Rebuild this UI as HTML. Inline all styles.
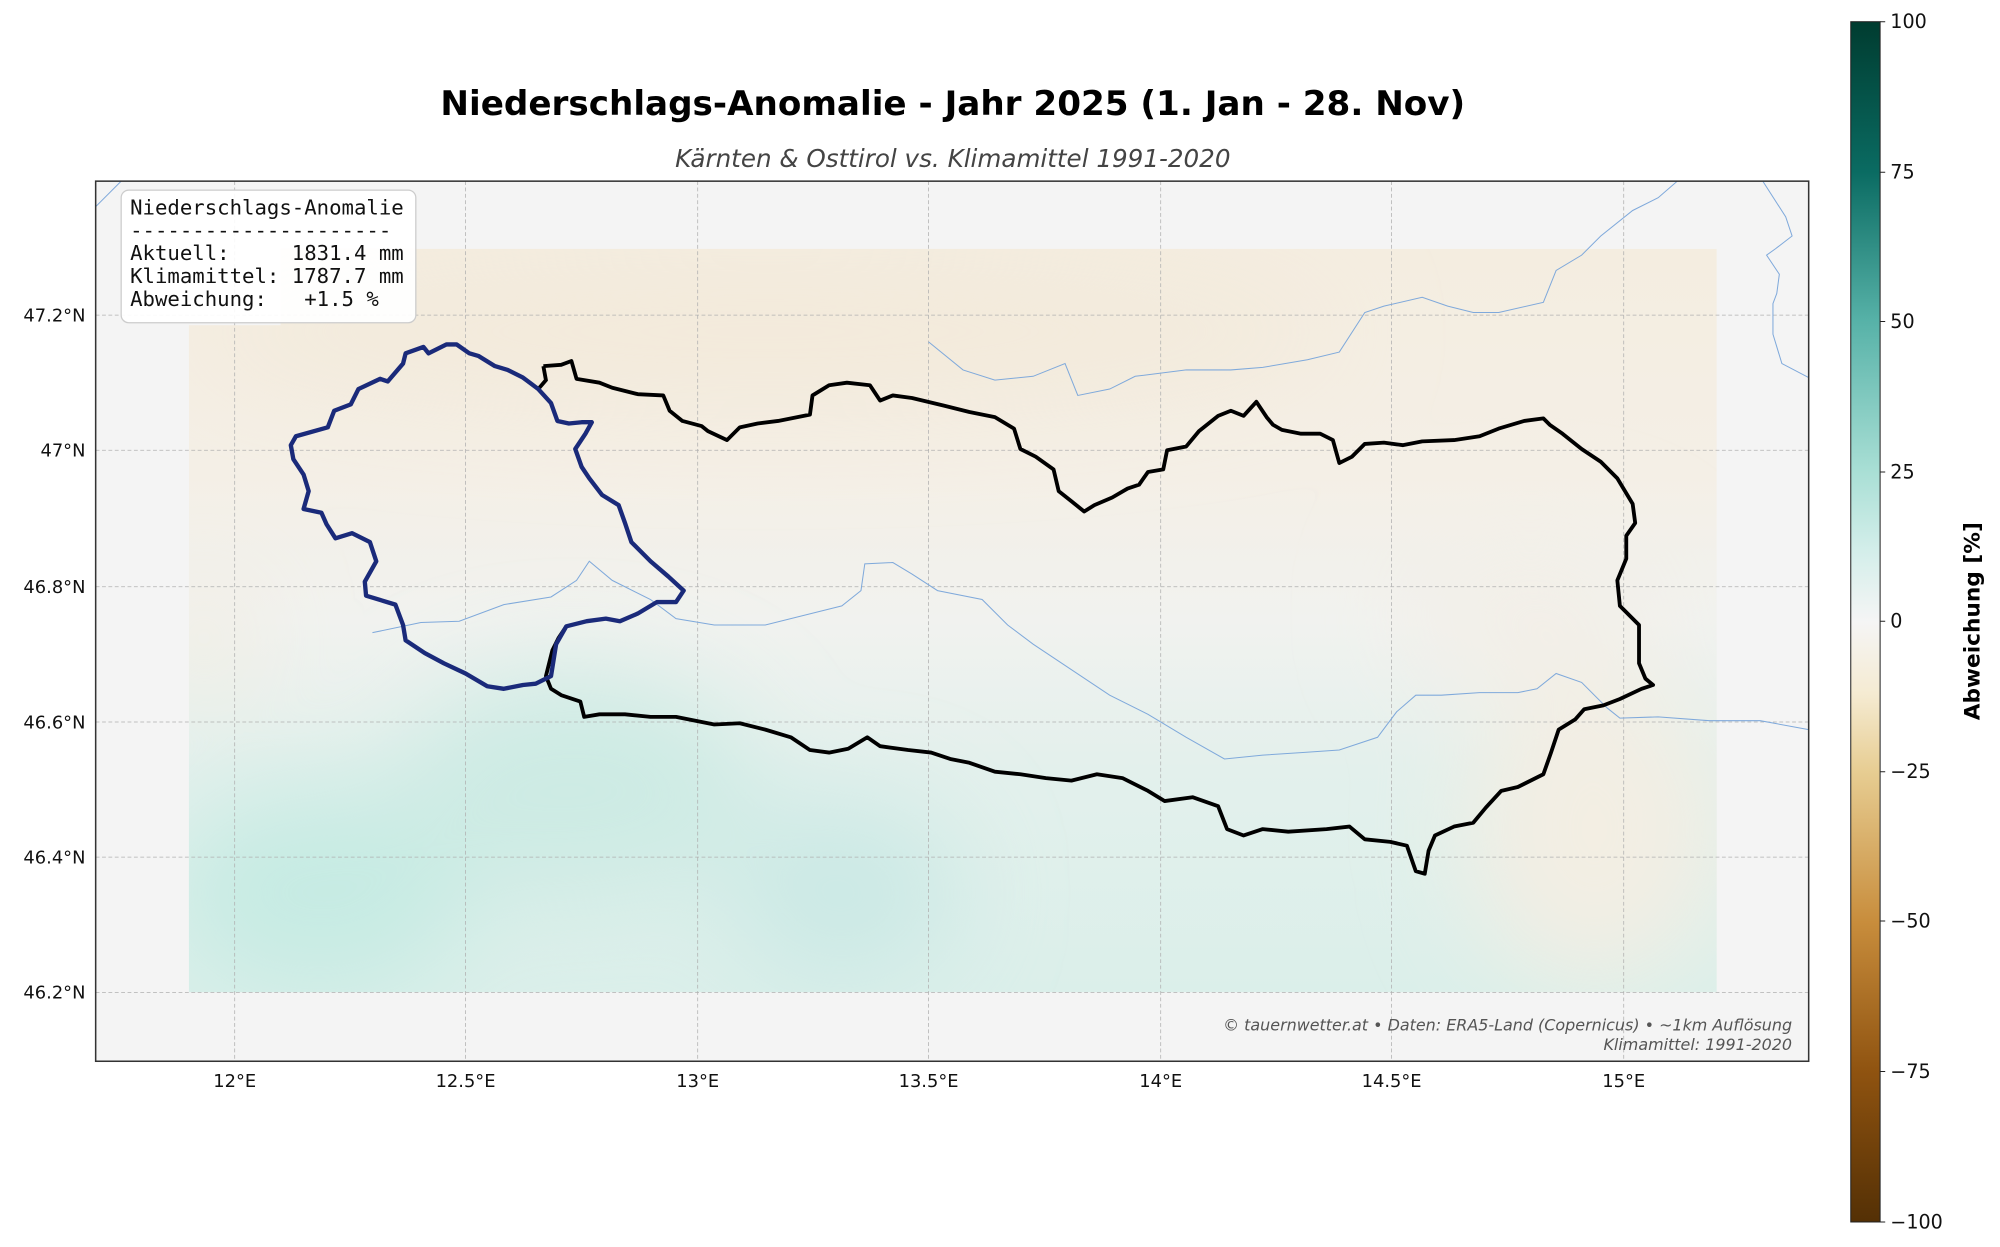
<!DOCTYPE html>
<html><head><meta charset="utf-8"><style>html,body{margin:0;padding:0;background:#fff}svg{display:block}</style></head>
<body>
<svg width="2000" height="1247" viewBox="0 0 1568 977.6" xmlns="http://www.w3.org/2000/svg" font-family="DejaVu Sans, Liberation Sans, sans-serif">
<defs>
<linearGradient id="cb" x1="0" y1="0" x2="0" y2="1">
<stop offset="0" stop-color="#003c30"/><stop offset="0.125" stop-color="#0a6b62"/><stop offset="0.25" stop-color="#57b2a8"/><stop offset="0.375" stop-color="#a9dfd5"/><stop offset="0.44" stop-color="#d3eeea"/><stop offset="0.5" stop-color="#f5f5f5"/><stop offset="0.56" stop-color="#f5ebd2"/><stop offset="0.625" stop-color="#e7cd92"/><stop offset="0.75" stop-color="#c88d3c"/><stop offset="0.875" stop-color="#8f5310"/><stop offset="1" stop-color="#543005"/>
</linearGradient>
<linearGradient id="hm" x1="0" y1="0" x2="0" y2="1">
<stop offset="0" stop-color="#f4ede0"/><stop offset="0.3" stop-color="#f4efe6"/><stop offset="0.5" stop-color="#f1f2ef"/><stop offset="0.7" stop-color="#e3f0ec"/><stop offset="1" stop-color="#dbefea"/>
</linearGradient>
<filter id="bl" x="-50%" y="-50%" width="200%" height="200%"><feGaussianBlur stdDeviation="40"/></filter>
<clipPath id="hc"><path d="M148,255 H220 V195 H1346 V778 H148 Z"/></clipPath>
<clipPath id="ax"><rect x="75" y="142" width="1343" height="690"/></clipPath>
</defs>
<text x="747" y="90" text-anchor="middle" font-size="26.8" font-weight="bold">Niederschlags-Anomalie - Jahr 2025 (1. Jan - 28. Nov)</text>
<text x="747" y="131" text-anchor="middle" font-size="19.3" font-style="italic" fill="#444">Kärnten &amp; Osttirol vs. Klimamittel 1991-2020</text>
<rect x="75" y="142" width="1343" height="690" fill="#f4f4f4"/>
<g clip-path="url(#hc)">
<rect x="148" y="195" width="1198" height="583" fill="url(#hm)"/>
<g filter="url(#bl)">
<ellipse cx="250" cy="700" rx="120" ry="80" fill="#c6ebe3"/>
<ellipse cx="450" cy="620" rx="140" ry="90" fill="#cdebe4"/>
<ellipse cx="660" cy="700" rx="90" ry="70" fill="#cbe9e5"/>
<ellipse cx="600" cy="260" rx="450" ry="60" fill="#f3eadb"/>
<ellipse cx="1250" cy="650" rx="100" ry="120" fill="#f3eee3"/>
<ellipse cx="1200" cy="480" rx="100" ry="60" fill="#f3efe8"/>
<ellipse cx="160" cy="500" rx="30" ry="40" fill="#f2ebdd"/>
</g>
</g>
<g stroke="#b0b0b0" stroke-width="0.6" stroke-dasharray="3,2" fill="none">
<path d="M184,142V832M365,142V832M547,142V832M728,142V832M910,142V832M1091,142V832M1273,142V832"/>
<path d="M75,247H1418M75,353H1418M75,460H1418M75,566H1418M75,672H1418M75,778H1418"/>
</g>
<g clip-path="url(#ax)" fill="none" stroke="#7fa9db" stroke-width="0.8">
<polyline points="292,496 330,488 360,487 395,474 432,468 452,455 462,440 480,455 510,470 530,485 560,490 600,490 640,480 660,475 675,463 678,442 700,441 715,450 735,463 770,470 790,490 810,505 840,525 870,545 900,560 930,578 960,595 990,592 1020,590 1050,588 1080,578 1095,558 1110,545 1130,545 1160,543 1190,543 1205,540 1220,528 1240,535 1260,555 1270,563 1300,562 1340,565 1380,565 1418,572"/>
<polyline points="728,268 755,290 780,298 810,295 835,285 845,310 870,305 890,295 930,290 965,290 990,288 1025,282 1050,276 1070,245 1085,240 1115,233 1135,240 1155,245 1175,245 1210,237 1220,212 1240,200 1255,185 1280,165 1300,155 1315,142"/>
<polyline points="1382,142 1400,170 1405,185 1392,195 1385,200 1395,215 1393,230 1390,238 1390,262 1397,285 1418,296"/>
<polyline points="75,162 95,142"/>
</g>
<polyline fill="none" stroke="#000" stroke-width="3" stroke-linejoin="round" points="426,287 440,286 448,283 452,297 470,300 480,304 500,309 520,310 525,322 535,330 550,334 555,338 570,345 580,335 594,332 610,330 635,325 637,310 650,302 664,300 682,302 690,314 700,310 715,312 740,318 760,323 780,327 795,336 800,352 812,358 826,368 830,385 840,393 850,401 858,396 872,390 884,383 893,380 900,370 912,368 915,353 930,350 940,338 955,326 965,322 975,326 985,315 993,327 998,333 1005,337 1020,340 1035,340 1045,345 1050,363 1060,358 1070,348 1085,347 1100,349 1115,346 1140,345 1160,342 1175,336 1195,330 1210,328 1215,333 1225,340 1240,352 1255,362 1268,375 1280,395 1282,410 1275,420 1275,438 1268,455 1270,475 1285,490 1285,520 1290,532 1296,537 1287,540 1270,548 1257,553 1242,556 1235,564 1222,572 1216,590 1210,607 1190,617 1177,620 1165,633 1155,645 1140,648 1125,655 1120,667 1117,685 1110,683 1103,663 1090,660 1070,658 1058,648 1040,650 1010,652 990,650 975,655 962,650 955,632 935,625 913,628 900,620 880,610 860,607 840,612 820,610 800,607 780,605 760,598 745,595 730,590 712,588 690,585 680,578 665,587 650,590 635,588 620,578 600,572 580,567 560,568 530,562 510,562 490,560 470,560 458,562 455,550 440,545 432,540 428,530 433,510 438,500 444,491"/>
<polyline fill="none" stroke="#000" stroke-width="3" points="422,305 428,298 426,287"/>
<polygon fill="none" stroke="#1a2a7a" stroke-width="3.4" stroke-linejoin="round" points="228,349 232,342 257,335 262,322 275,317 281,305 298,297 304,299 316,285 318,277 332,272 336,277 350,270 358,270 368,277 375,279 388,287 398,290 410,296 422,305 432,316 437,330 446,332 456,331 464,331 459,340 451,352 456,366 462,375 472,388 485,396 490,410 495,425 510,440 524,452 536,463 530,472 515,472 500,481 486,487 475,485 460,487 444,491 436,505 432,530 420,536 410,537 395,540 382,538 365,528 348,520 333,512 318,502 316,490 310,474 287,467 286,456 295,440 290,425 276,418 263,422 256,411 252,402 238,399 242,385 238,372 230,360"/>
<rect x="95" y="149" width="231" height="104" rx="6" fill="#fff" fill-opacity="0.92" stroke="#ccc" stroke-width="1"/>
<g font-family="DejaVu Sans Mono, Liberation Mono, monospace" font-size="16.2" fill="#111">
<text x="102" y="168" xml:space="preserve">Niederschlags-Anomalie</text>
<text x="102" y="186" xml:space="preserve">---------------------</text>
<text x="102" y="204" xml:space="preserve">Aktuell:     1831.4 mm</text>
<text x="102" y="222" xml:space="preserve">Klimamittel: 1787.7 mm</text>
<text x="102" y="240" xml:space="preserve">Abweichung:   +1.5 %</text>
</g>
<text x="1405" y="808" text-anchor="end" font-size="12.5" font-style="italic" fill="#555">© tauernwetter.at • Daten: ERA5-Land (Copernicus) • ~1km Auflösung</text>
<text x="1405" y="823" text-anchor="end" font-size="12.5" font-style="italic" fill="#555">Klimamittel: 1991-2020</text>
<rect x="75" y="142" width="1343" height="690" fill="none" stroke="#333" stroke-width="1.2"/>
<g font-size="14" fill="#111">
<g text-anchor="end">
<text x="67" y="252">47.2°N</text><text x="67" y="358">47°N</text><text x="67" y="465">46.8°N</text><text x="67" y="571">46.6°N</text><text x="67" y="677">46.4°N</text><text x="67" y="783">46.2°N</text>
</g>
<g text-anchor="middle">
<text x="184" y="852">12°E</text><text x="365" y="852">12.5°E</text><text x="547" y="852">13°E</text><text x="728" y="852">13.5°E</text><text x="910" y="852">14°E</text><text x="1091" y="852">14.5°E</text><text x="1273" y="852">15°E</text>
</g>
</g>
<rect x="1451" y="17" width="23" height="941" fill="url(#cb)" stroke="#222" stroke-width="0.8"/>
<g stroke="#222" stroke-width="0.8">
<path d="M1474,17h4M1474,135h4M1474,252h4M1474,370h4M1474,487h4M1474,605h4M1474,722h4M1474,840h4M1474,958h4"/>
</g>
<g font-size="15" fill="#111">
<text x="1482" y="22">100</text><text x="1482" y="140">75</text><text x="1482" y="257">50</text><text x="1482" y="375">25</text><text x="1482" y="492">0</text><text x="1482" y="610">−25</text><text x="1482" y="727">−50</text><text x="1482" y="845">−75</text><text x="1482" y="963">−100</text>
</g>
<text transform="translate(1552,487) rotate(-90)" text-anchor="middle" font-size="17" font-weight="bold">Abweichung [%]</text>
</svg>
</body></html>
